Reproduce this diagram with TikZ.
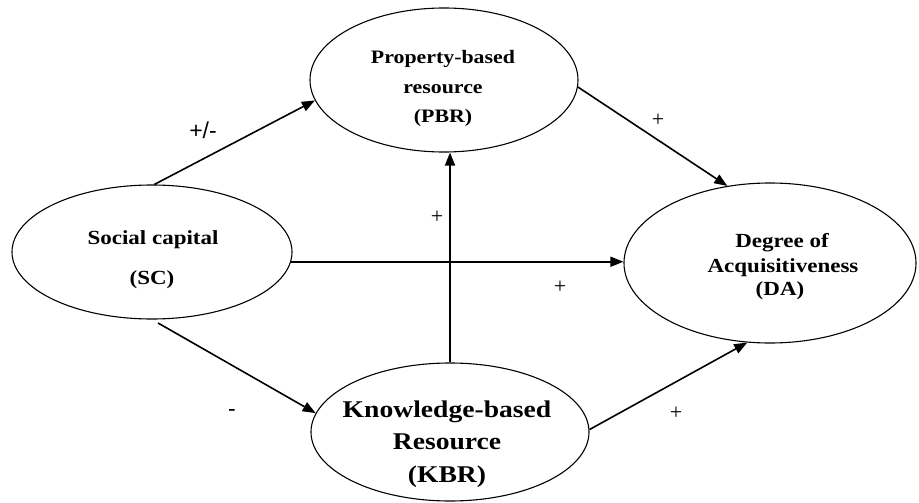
\documentclass[tikz,border=0pt]{standalone}
\usepackage{fontspec}
\setmainfont{Liberation Serif}
\newfontfamily\capfont[FakeStretch=1.15]{Liberation Serif}
\newfontfamily\signsansfont{Liberation Sans}
\usetikzlibrary{shapes.geometric,arrows.meta}
\begin{document}
\begin{tikzpicture}[x=1pt,y=-1pt,
  construct/.style={draw, ellipse, line width=1.1pt, inner sep=0pt},
  link/.style={line width=1.6pt, -{Triangle[length=13pt,width=10pt]}},
  caption/.style={anchor=base, inner sep=0pt},
  plus/.style={font=\fontsize{22}{24}\selectfont, inner sep=0pt},
  signsans/.style={font=\signsansfont\fontsize{23}{26}\selectfont, inner sep=0pt}]

% canvas
\fill[white] (0,0) rectangle (919,503);
\useasboundingbox (0,0) rectangle (919,503);

% constructs
\node[construct, minimum width=280pt, minimum height=134pt] (sc)  at (152,252) {};
\node[construct, minimum width=268pt, minimum height=144pt] (pbr) at (444,80)  {};
\node[construct, minimum width=292pt, minimum height=160pt] (da)  at (770,263) {};
\node[construct, minimum width=278pt, minimum height=138pt] (kbr) at (450,432) {};

% captions
\begin{scope}[every node/.append style={caption}]
  \node[font=\capfont\bfseries\fontsize{20}{24}\selectfont] (sc1) at (153,244) {Social capital};
  \node[font=\capfont\bfseries\fontsize{20}{24}\selectfont] (sc2) at (152,284) {(SC)};
  \node[font=\capfont\bfseries\fontsize{19}{23}\selectfont] (pbr1) at (443,64) {Property-based};
  \node[font=\capfont\bfseries\fontsize{19}{23}\selectfont] (pbr2) at (443,93) {resource};
  \node[font=\capfont\bfseries\fontsize{19}{23}\selectfont] (pbr3) at (443,122) {(PBR)};
  \node[font=\capfont\bfseries\fontsize{20}{24}\selectfont] (da1) at (782,247) {Degree of};
  \node[font=\capfont\bfseries\fontsize{20}{24}\selectfont] (da2) at (783,272) {Acquisitiveness};
  \node[font=\capfont\bfseries\fontsize{20}{24}\selectfont] (da3) at (780,295) {(DA)};
  \node[font=\capfont\bfseries\fontsize{24}{28}\selectfont] (kbr1) at (447,417) {Knowledge-based};
  \node[font=\capfont\bfseries\fontsize{24}{28}\selectfont] (kbr2) at (447,449) {Resource};
  \node[font=\capfont\bfseries\fontsize{24}{28}\selectfont] (kbr3) at (447,482) {(KBR)};
\end{scope}

% paths between constructs
\draw[link] (sc.88) -- (pbr.189);
\draw[link, shorten <=7pt] (sc.south) -- (kbr.172);
\draw[link] (sc.-4) -- (sc.-4 -| da.west);
\draw[link] (kbr.north) -- (kbr.north |- pbr.south);
\draw[link] (pbr.-3) -- (da.119);
\draw[link] (kbr.1) -- (da.254);

% path signs
\node[signsans] (s1) at (203,130) {+/-};
\node[signsans] (s2) at (232,413) {-};
\node[plus] (s3) at (658,120) {+};
\node[plus] (s4) at (437,217) {+};
\node[plus] (s5) at (560,287) {+};
\node[plus] (s6) at (676,413) {+};
\end{tikzpicture}
\end{document}
